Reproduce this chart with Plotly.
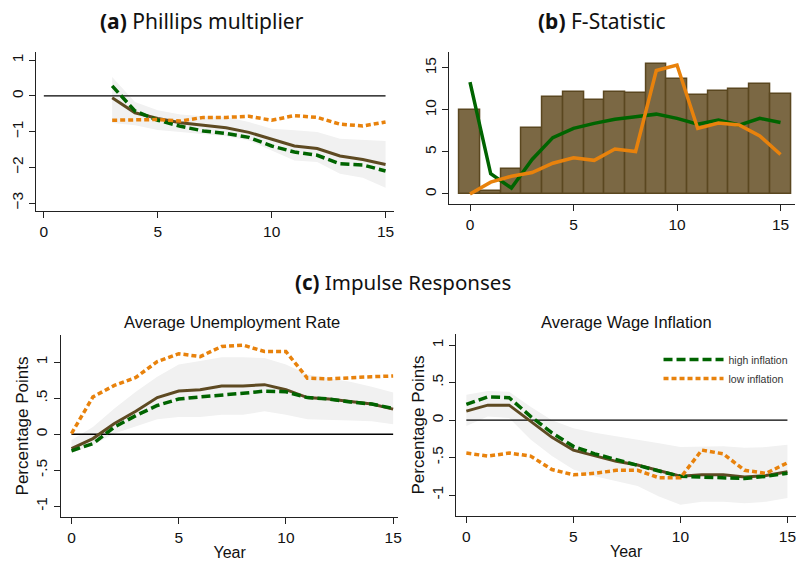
import plotly.graph_objects as go

# ---------------- data ----------------
# (a) Phillips multiplier, horizons 3..15
pm_h = list(range(3, 16))
pm_all = [-0.05, -0.47, -0.63, -0.75, -0.82, -0.89, -1.02, -1.22, -1.40, -1.47, -1.68, -1.78, -1.92]
pm_high = [0.28, -0.42, -0.68, -0.85, -0.98, -1.05, -1.16, -1.40, -1.57, -1.66, -1.90, -1.93, -2.10]
pm_low = [-0.68, -0.68, -0.66, -0.70, -0.60, -0.60, -0.57, -0.68, -0.55, -0.60, -0.79, -0.84, -0.73]
pm_ci_hi = [0.53, -0.17, -0.40, -0.52, -0.57, -0.59, -0.73, -0.92, -0.96, -1.01, -1.20, -1.23, -1.26]
pm_ci_lo = [-0.76, -0.82, -0.95, -1.01, -1.08, -1.13, -1.25, -1.53, -1.81, -1.85, -2.18, -2.29, -2.57]

# (b) F-statistic, horizons 0..15
fs_h = list(range(0, 16))
fs_bar = [10.04, 0.3, 2.95, 7.83, 11.5, 12.17, 11.22, 12.17, 12.05, 15.47, 13.74, 11.8, 12.28, 12.52, 13.1, 11.93]
fs_high = [13.3, 2.4, 0.7, 4.1, 6.7, 7.8, 8.4, 8.9, 9.2, 9.5, 9.0, 8.3, 8.8, 8.2, 9.0, 8.5]
fs_low = [0.0, 1.4, 2.1, 2.55, 3.65, 4.3, 4.0, 5.35, 5.05, 14.7, 15.35, 7.8, 8.45, 8.2, 6.9, 4.7]

# (c) impulse responses, years 0..15
years = list(range(0, 16))
ur_all = [-0.20, -0.06, 0.15, 0.32, 0.51, 0.60, 0.62, 0.67, 0.67, 0.69, 0.62, 0.51, 0.49, 0.46, 0.42, 0.35]
ur_high = [-0.23, -0.13, 0.10, 0.26, 0.40, 0.49, 0.52, 0.54, 0.57, 0.60, 0.59, 0.51, 0.49, 0.45, 0.42, 0.36]
ur_low = [0.01, 0.52, 0.68, 0.79, 1.01, 1.12, 1.08, 1.22, 1.24, 1.15, 1.15, 0.78, 0.77, 0.79, 0.80, 0.81]
ur_ci_hi = [-0.08, 0.10, 0.36, 0.59, 0.80, 0.97, 1.02, 1.07, 1.07, 1.06, 0.97, 0.83, 0.78, 0.73, 0.66, 0.58]
ur_ci_lo = [-0.26, -0.15, 0.01, 0.11, 0.21, 0.24, 0.24, 0.27, 0.27, 0.32, 0.27, 0.21, 0.20, 0.19, 0.18, 0.14]

wi_all = [0.12, 0.20, 0.20, -0.02, -0.23, -0.40, -0.48, -0.55, -0.60, -0.68, -0.75, -0.73, -0.73, -0.76, -0.74, -0.69]
wi_high = [0.21, 0.31, 0.30, 0.05, -0.17, -0.35, -0.45, -0.53, -0.60, -0.68, -0.75, -0.76, -0.76, -0.78, -0.75, -0.71]
wi_low = [-0.44, -0.48, -0.44, -0.48, -0.66, -0.73, -0.71, -0.67, -0.67, -0.77, -0.77, -0.40, -0.45, -0.67, -0.71, -0.57]
wi_ci_hi = [0.34, 0.39, 0.38, 0.18, 0.00, -0.11, -0.17, -0.22, -0.26, -0.31, -0.36, -0.36, -0.35, -0.37, -0.36, -0.33]
wi_ci_lo = [-0.08, 0.05, 0.03, -0.26, -0.48, -0.66, -0.75, -0.82, -0.88, -1.02, -1.13, -1.09, -1.09, -1.11, -1.09, -1.04]

x_ticks = [0, 5, 10, 15]
pm_yticks = [1, 0, -1, -2, -3]
fs_yticks = [0, 5, 10, 15]
ir_yticks = [-1, -0.5, 0, 0.5, 1]
ir_yticklabels = ["-1", "-.5", "0", ".5", "1"]

# ---------------- styles ----------------
BROWN = "#5e4a22"
BAR_FILL = "#7b6844"
GREEN = "#006400"
ORANGE = "#e8820c"
BAND = "#f1f1f1"
SANS = "Liberation Sans, Arial, sans-serif"
TITLE_FONT = "Noto Sans, Open Sans, sans-serif"

fig = go.Figure()


def add_band(x, lo, hi, xa, ya):
    fig.add_trace(go.Scatter(
        x=list(x) + list(x)[::-1], y=list(hi) + list(lo)[::-1],
        fill="toself", fillcolor=BAND, line=dict(width=0),
        mode="lines", hoverinfo="skip", showlegend=False, xaxis=xa, yaxis=ya))


def add_zero(xa, ya):
    fig.add_trace(go.Scatter(
        x=[0, 15], y=[0, 0], mode="lines", line=dict(color="black", width=1.3),
        hoverinfo="skip", showlegend=False, xaxis=xa, yaxis=ya))


def add_irf(x, all_, high, low, xa, ya, legend=False):
    fig.add_trace(go.Scatter(x=x, y=all_, mode="lines", name="all",
                             line=dict(color=BROWN, width=3), showlegend=False,
                             xaxis=xa, yaxis=ya))
    fig.add_trace(go.Scatter(x=x, y=high, mode="lines", name="high inflation",
                             line=dict(color=GREEN, width=3.5, dash="9px,4px"),
                             showlegend=legend, xaxis=xa, yaxis=ya))
    fig.add_trace(go.Scatter(x=x, y=low, mode="lines", name="low inflation",
                             line=dict(color=ORANGE, width=3.5, dash="5px,3px"),
                             showlegend=legend, xaxis=xa, yaxis=ya))


# (a) Phillips multiplier
add_band(pm_h, pm_ci_lo, pm_ci_hi, "x", "y")
add_zero("x", "y")
add_irf(pm_h, pm_all, pm_high, pm_low, "x", "y")

# (b) F-statistic: bars plus two lines
fig.add_trace(go.Bar(x=fs_h, y=fs_bar, width=1.0, marker=dict(color=BAR_FILL, line=dict(color="#5a4720", width=1.5)),
                     showlegend=False, xaxis="x2", yaxis="y2"))
fig.add_trace(go.Scatter(x=fs_h, y=fs_high, mode="lines", line=dict(color=GREEN, width=3.5),
                         showlegend=False, xaxis="x2", yaxis="y2"))
fig.add_trace(go.Scatter(x=fs_h, y=fs_low, mode="lines", line=dict(color=ORANGE, width=3.5),
                         showlegend=False, xaxis="x2", yaxis="y2"))

# (c) impulse responses
add_band(years, ur_ci_lo, ur_ci_hi, "x3", "y3")
add_zero("x3", "y3")
add_irf(years, ur_all, ur_high, ur_low, "x3", "y3")

add_band(years, wi_ci_lo, wi_ci_hi, "x4", "y4")
add_zero("x4", "y4")
add_irf(years, wi_all, wi_high, wi_low, "x4", "y4", legend=True)


def axis_style(**kw):
    d = dict(showgrid=False, zeroline=False, showline=True, linecolor="#222", linewidth=1.2,
             ticks="outside", ticklen=6, tickwidth=1.2, tickcolor="#222",
             tickfont=dict(family=SANS, size=15.5, color="#111"))
    d.update(kw)
    return d


W, H = 799, 561
px = lambda v: v / W
py = lambda v: 1 - v / H


def label(text, x, y, family, size):
    return dict(text=text, x=px(x), y=py(y), xref="paper", yref="paper",
                xanchor="center", yanchor="middle", showarrow=False,
                font=dict(family=family, size=size, color="#111"))


fig.update_layout(
    width=W, height=H, margin=dict(l=0, r=0, t=0, b=0),
    paper_bgcolor="white", plot_bgcolor="white", bargap=0,
    xaxis=axis_style(domain=[px(36), px(395)], range=[-0.35, 15.35], tickvals=x_ticks, anchor="y"),
    yaxis=axis_style(domain=[py(211), py(52)], range=[-3.22, 1.23], tickvals=pm_yticks,
                     tickangle=-90, anchor="x"),
    xaxis2=axis_style(domain=[px(451), px(798)], range=[-1.0, 15.7], tickvals=x_ticks, anchor="y2"),
    yaxis2=axis_style(domain=[py(204), py(52)], range=[-1.2, 16.9], tickvals=fs_yticks,
                      tickangle=-90, anchor="x2"),
    xaxis3=axis_style(domain=[px(61), px(400)], range=[-0.5, 15.25], tickvals=x_ticks, anchor="y3",
                      title=dict(text="Year", font=dict(family=SANS, size=16, color="#111"), standoff=2)),
    yaxis3=axis_style(domain=[py(517), py(335)], range=[-1.15, 1.38], tickvals=ir_yticks,
                      ticktext=ir_yticklabels, tickangle=-90, anchor="x3",
                      title=dict(text="Percentage Points", font=dict(family=SANS, size=17, color="#111"), standoff=0)),
    xaxis4=axis_style(domain=[px(458), px(799)], range=[-0.47, 15.4], tickvals=x_ticks, anchor="y4",
                      title=dict(text="Year", font=dict(family=SANS, size=16, color="#111"), standoff=2)),
    yaxis4=axis_style(domain=[py(516), py(334)], range=[-1.28, 1.15], tickvals=ir_yticks,
                      ticktext=ir_yticklabels, tickangle=-90, anchor="x4",
                      title=dict(text="Percentage Points", font=dict(family=SANS, size=17, color="#111"), standoff=0)),
    legend=dict(x=px(661), y=py(345), xanchor="left", yanchor="top", bgcolor="rgba(0,0,0,0)",
                font=dict(family=SANS, size=10.5, color="#333"), itemwidth=60, tracegroupgap=0),
    annotations=[
        label("<b>(a)</b> Phillips multiplier", 203, 21, TITLE_FONT, 21),
        label("<b>(b)</b> F-Statistic", 604, 21, TITLE_FONT, 21),
        label("<b>(c)</b> Impulse Responses", 405, 282, TITLE_FONT, 20.5),
        label("Average Unemployment Rate", 233, 322, SANS, 16.5),
        label("Average Wage Inflation", 629, 322, SANS, 16.5),
    ],
)

fig.write_html("out.html")
